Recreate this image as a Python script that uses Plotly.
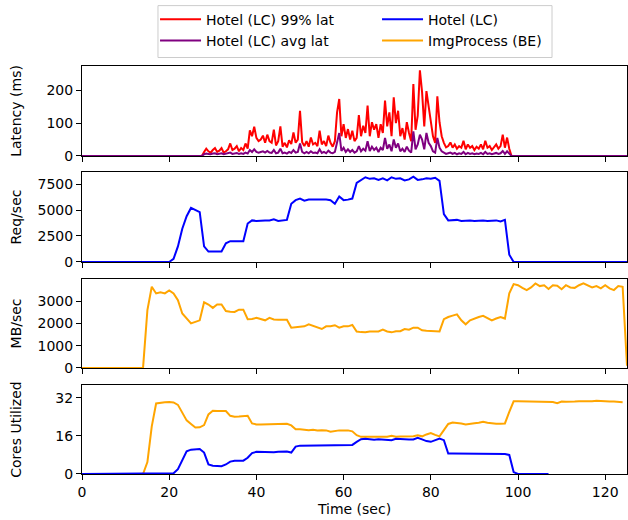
import numpy as np
import plotly.graph_objects as go

# ---------------- data ----------------
# Latency panel (0.5 s samples between 27.5 s and 98.5 s)
lat_time = [0.0] + list(np.arange(27.5, 98.51, 0.5)) + [125.0]
lat_p99 = [0,
    0, 12, 22, 14, 10, 18, 24, 12, 16, 24, 10, 14, 20, 38, 18, 22, 30, 14, 24, 18,
    38, 22, 78, 60, 89, 55, 45, 50, 62, 40, 65, 45, 40, 80, 32, 45, 90, 28, 40, 26,
    48, 36, 72, 40, 50, 138, 42, 30, 45, 28, 56, 35, 40, 30, 77, 35, 45, 30, 62, 40,
    28, 45, 133, 174, 60, 97, 55, 82, 50, 77, 45, 55, 125, 60, 92, 70, 154, 60, 103, 80,
    97, 55, 97, 70, 169, 90, 133, 60, 179, 100, 138, 60, 85, 50, 103, 70, 45, 220, 80, 123,
    262, 195, 90, 198, 150, 113, 60, 40, 182, 103, 60, 40, 26, 30, 41, 25, 35, 22, 30, 25,
    46, 20, 35, 25, 30, 18, 28, 22, 35, 20, 46, 25, 30, 18, 28, 35, 22, 30, 65, 25,
    56, 22, 0,
    0]
lat_avg = [0,
    0, 5, 7, 6, 5, 7, 8, 5, 6, 8, 5, 6, 7, 10, 6, 7, 9, 6, 8, 6,
    10, 7, 18, 12, 20, 12, 10, 12, 14, 10, 15, 10, 9, 18, 8, 10, 22, 8, 10, 7,
    12, 9, 18, 10, 12, 38, 12, 8, 12, 8, 14, 9, 10, 8, 20, 9, 12, 8, 16, 10,
    8, 12, 45, 70, 15, 25, 12, 20, 12, 18, 10, 14, 30, 14, 22, 16, 45, 15, 28, 18,
    25, 12, 25, 18, 55, 22, 35, 14, 50, 25, 38, 14, 22, 12, 28, 16, 10, 75, 20, 35,
    65, 50, 20, 70, 40, 30, 14, 10, 55, 25, 14, 10, 6, 8, 10, 6, 9, 5, 8, 6,
    12, 5, 9, 6, 8, 5, 7, 6, 9, 5, 12, 6, 8, 5, 7, 9, 6, 8, 15, 6,
    14, 6, 0,
    0]

# 1 s samples
time_s = list(range(0, 126))
hotel_rps = ([0] * 21 + [
    300, 1500, 3200, 4400, 5200, 5000, 4800, 1500, 1000, 1000,
    1000, 1000, 1800, 2000, 2000, 2000, 2000, 3700, 4000, 3950,
    4000, 4000, 4000, 4100, 3950, 4000, 4050, 5600, 5950, 6100,
    5900, 6000, 6000, 6050, 6000, 6000, 5950, 5600, 6300, 5950,
    6000, 6100, 7600, 7900, 8150, 8000, 8050, 7900, 8050, 7850,
    8150, 8000, 8050, 7850, 7950, 8200, 7900, 7950, 8050, 8000,
    8100, 7800, 4600, 4000, 4000, 4050, 3950, 4000, 4000, 3950,
    4000, 4000, 3950, 4000, 4000, 3900, 4050, 700] + [0] * 27)

img_mbps = ([0] * 15 + [
    2600, 3650, 3350, 3400, 3350, 3480, 3350, 3050, 2450, 2200,
    2000, 2070, 2140, 2950, 2850, 2700, 2850, 2850, 2560, 2530,
    2520, 2620, 2620, 2190, 2200, 2250, 2200, 2140, 2250, 2180,
    2170, 2170, 2170, 1810, 1840, 1870, 1870, 1960, 1900, 1840,
    1750, 1870, 1870, 1920, 1810, 1870, 1870, 1930, 1640, 1610,
    1600, 1640, 1640, 1640, 1720, 1640, 1600, 1650, 1650, 1750,
    1720, 1810, 1810, 1690, 1670, 1670, 1670, 1640, 2190, 2290,
    2350, 2410, 2140, 1960, 2140, 2220, 2290, 2340, 2250, 2140,
    2220, 2290, 2220, 3350, 3770, 3720, 3600, 3500, 3620, 3800,
    3680, 3720, 3550, 3720, 3700, 3540, 3720, 3620, 3600, 3720,
    3800, 3720, 3620, 3680, 3580, 3720, 3580, 3500, 3680, 3650,
    100])

hotel_cores_time = list(range(0, 108))
hotel_cores = ([0] * 21 + [
    0.3, 2, 6, 9.5, 10.2, 10.5, 10.5, 9, 4, 3.5,
    3.5, 3.3, 4, 5.2, 5.6, 5.5, 5.6, 6.8, 8.8, 9.3,
    9.2, 9.1, 9.2, 9.1, 9.3, 9.3, 9.4, 9.0, 11.5, 11.9,
    11.9, 12.0, 12.1, 11.9, 12.2, 12.0, 12.1, 12.1, 12.1, 12.1,
    12.1, 12.2, 13.5, 14.6, 14.8, 14.6, 14.4, 14.6, 14.5, 14.4,
    14.2, 14.8, 14.6, 14.6, 14.5, 14.5, 15.2, 14.5, 13.8, 13.5,
    14.2, 14.9, 14.2, 8.6, 8.6, 8.6, 8.5, 8.6, 8.6, 8.5,
    8.6, 8.4, 8.6, 8.6, 8.6, 8.5, 8.4, 8.0, 0.8] + [0] * 8)

img_cores_time = list(range(0, 125))
img_cores = ([0] * 15 + [
    5, 20, 29.6, 30, 30.1, 30.2, 30, 29, 26, 22.5,
    21, 19.5, 19.6, 20.5, 25, 26.5, 26.4, 26.5, 26.4, 24.4,
    24, 24.1, 24.4, 24.4, 21.2, 20.8, 20.8, 20.8, 20.9, 20.8,
    21.0, 20.9, 21.1, 20.4, 18.8, 18.8, 18.5, 18.4, 18.6, 18.3,
    18.4, 18.3, 17.7, 18.1, 18.3, 18.3, 18.3, 17.9, 16.3, 15.6,
    15.6, 15.8, 15.8, 15.8, 15.8, 15.6, 16, 15.6, 15.7, 15.7,
    15.8, 15.8, 16.2, 15.8, 16.6, 17.2, 16.4, 15.8, 18.4, 21,
    21.6, 21.5, 21.2, 20.8, 21.2, 21.3, 21.5, 21.9, 21.5, 21.2,
    21.1, 21.1, 21.2, 26.1, 30.5, 30.5, 30.5, 30.3, 30.2, 30.5,
    30.5, 30.4, 30.5, 30.2, 29.7, 30.4, 30.3, 30.2, 30.4, 30.5,
    30.4, 30.5, 30.5, 30.7, 30.5, 30.3, 30.4, 30.4, 30.2, 30.1])

x_ticks = [0, 20, 40, 60, 80, 100, 120]
lat_ticks = [0, 100, 200]
rps_ticks = [0, 2500, 5000, 7500]
mb_ticks = [0, 1000, 2000, 3000]
core_ticks = [0, 16, 32]

names = ["Hotel (LC) 99% lat", "Hotel (LC) avg lat", "Hotel (LC)", "ImgProcess (BE)"]
colors = {"red": "#ff0000", "purple": "#800080", "blue": "#0000ff", "orange": "#ffa500"}

# ---------------- figure ----------------
FONT = "DejaVu Sans"
LW = 2
fig = go.Figure()

fig.add_trace(go.Scatter(x=lat_time, y=lat_p99, mode="lines", name=names[0],
                         line=dict(color=colors["red"], width=LW), xaxis="x", yaxis="y",
                         legendrank=1))
fig.add_trace(go.Scatter(x=lat_time, y=lat_avg, mode="lines", name=names[1],
                         line=dict(color=colors["purple"], width=LW), xaxis="x", yaxis="y",
                         legendrank=3))
fig.add_trace(go.Scatter(x=time_s, y=hotel_rps, mode="lines", name=names[2],
                         line=dict(color=colors["blue"], width=LW), xaxis="x2", yaxis="y2",
                         legendrank=2))
fig.add_trace(go.Scatter(x=time_s, y=img_mbps, mode="lines", name=names[3],
                         line=dict(color=colors["orange"], width=LW), xaxis="x3", yaxis="y3",
                         legendrank=4))
fig.add_trace(go.Scatter(x=img_cores_time, y=img_cores, mode="lines", showlegend=False,
                         line=dict(color=colors["orange"], width=LW), xaxis="x4", yaxis="y4"))
fig.add_trace(go.Scatter(x=hotel_cores_time, y=hotel_cores, mode="lines", showlegend=False,
                         line=dict(color=colors["blue"], width=LW), xaxis="x4", yaxis="y4"))

axis_common = dict(showline=True, linecolor="black", linewidth=1, mirror=True,
                   ticks="outside", ticklen=5, tickwidth=1, tickcolor="black",
                   showgrid=False, zeroline=False, automargin=False,
                   tickfont=dict(family=FONT, size=14, color="black"))

domains = [[0.7797, 1.0], [0.5197, 0.740], [0.260, 0.478], [0.0, 0.2179]]
yranges = [[0, 275], [0, 8650], [0, 4000], [0, 37.3]]
yticks = [lat_ticks, rps_ticks, mb_ticks, core_ticks]
ytitles = ["Latency (ms)", "Req/sec", "MB/sec", "Cores Utilized"]
ystandoff = [21, 12, 12, 30]

layout = dict(
    width=628, height=520,
    margin=dict(l=82, r=1, t=66, b=46, autoexpand=False),
    paper_bgcolor="white", plot_bgcolor="white",
    font=dict(family=FONT, size=14, color="black"),
    showlegend=True,
    legend=dict(orientation="h", x=0.134, xanchor="left", y=1.153, yanchor="top",
                borderwidth=0, bgcolor="rgba(0,0,0,0)",
                font=dict(family=FONT, size=14, color="black"),
                itemwidth=41, entrywidth=166, tracegroupgap=0, traceorder="normal"),
    shapes=[dict(type="rect", xref="paper", yref="paper",
                 x0=0.1394, x1=0.8624, y0=1.0208, y1=1.148,
                 line=dict(color="#cccccc", width=1), fillcolor="rgba(0,0,0,0)",
                 layer="below")],
)

for i in range(4):
    sx = "" if i == 0 else str(i + 1)
    xa = dict(axis_common, domain=[0, 1], range=[0, 125], tickvals=x_ticks,
              anchor="y" + sx, showticklabels=(i == 3))
    if i > 0:
        xa["matches"] = "x"
    if i == 3:
        xa["title"] = dict(text="Time (sec)", font=dict(family=FONT, size=14), standoff=5)
    ya = dict(axis_common, domain=domains[i], range=yranges[i], tickvals=yticks[i],
              anchor="x" + sx,
              title=dict(text=ytitles[i], font=dict(family=FONT, size=14),
                         standoff=ystandoff[i]))
    layout["xaxis" + sx] = xa
    layout["yaxis" + sx] = ya

fig.update_layout(**layout)
fig.write_html("out.html", config={"displayModeBar": False},
               post_script="document.body.style.margin='0';")
